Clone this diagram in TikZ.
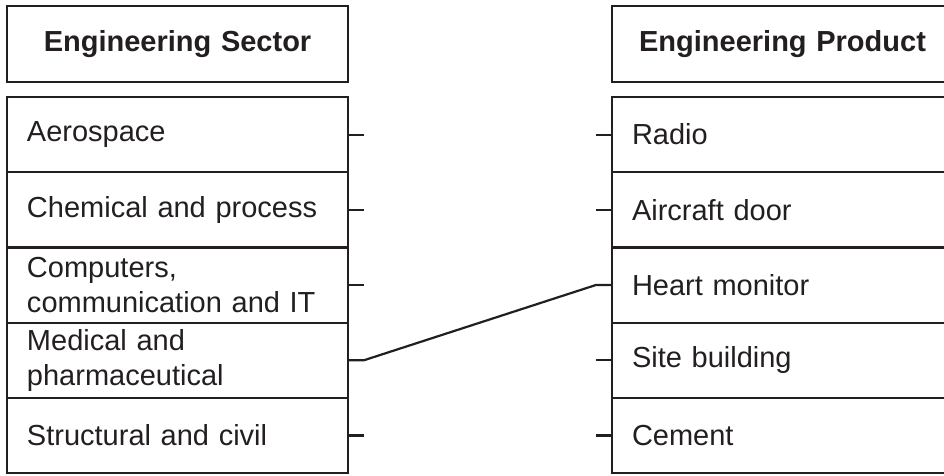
\documentclass[tikz,border=0pt]{standalone}
\usepackage{fontspec}
\setmainfont{Liberation Sans}
\definecolor{ink}{RGB}{35,31,32}
\begin{document}
\begin{tikzpicture}[x=1pt,y=-1pt,
  box/.style={draw=ink,line width=2.2pt,rectangle,inner xsep=20pt,inner ysep=0pt,
    minimum height=75.2pt,text width=301pt,align=left,
    font=\fontsize{29}{35}\selectfont,text=ink},
  head/.style={box,align=center,minimum height=76pt,font=\fontsize{29}{35}\selectfont\bfseries},
  link/.style={draw=ink,line width=2.2pt}]
\clip (0,0) rectangle (944,475);
% left column
\node[head] (lh) at (177.5,44) {Engineering Sector};
\node[box] (aero) at (177.5,134.6) {Aerospace};
\node[box] (chem) at (177.5,209.8) {Chemical and process};
\node[box] (comp) at (177.5,285) {Computers,\\communication and IT};
\node[box] (med)  at (177.5,360.2) {Medical and\\pharmaceutical};
\node[box] (struc) at (177.5,435.4) {Structural and civil};
% right column
\node[head] (rh) at (782.5,44) {Engineering Product};
\node[box] (radio) at (782.5,134.6) {Radio};
\node[box] (door) at (782.5,209.8) {Aircraft door};
\node[box] (heart) at (782.5,285) {Heart monitor};
\node[box] (site) at (782.5,360.2) {Site building};
\node[box] (cem) at (782.5,435.4) {Cement};
% ticks
\foreach \n in {aero,chem,comp,struc}{\draw[link] (\n.east) -- ++(15,0);}
\foreach \n in {radio,door,site,cem}{\draw[link] (\n.west) -- ++(-15,0);}
% connection
\draw[link] (med.east) -- ++(15,0) -- ([xshift=-15pt]heart.west) -- (heart.west);
\end{tikzpicture}
\end{document}
